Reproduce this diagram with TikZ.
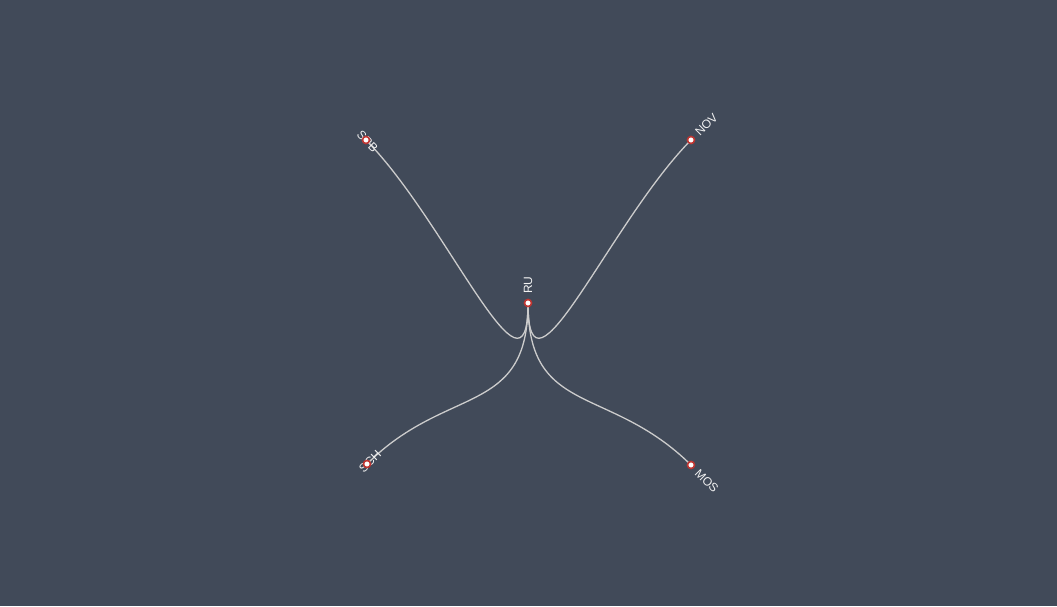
\documentclass[tikz,border=0pt]{standalone}
\usepackage{fontspec}
\setmainfont{Liberation Sans}
\usetikzlibrary{positioning}
\definecolor{bg}{HTML}{414A59}
\definecolor{dot}{HTML}{C23531}
\definecolor{linkc}{HTML}{CCCCCC}
\definecolor{txt}{HTML}{F2F2F2}

\begin{document}
\begin{tikzpicture}[x=1pt, y=-1pt,
    leaf/.style={circle, draw=dot, fill=white, line width=1.6pt, minimum size=7pt, inner sep=0pt},
    lbl/.style={text=txt, font=\fontsize{12}{14}\selectfont, inner sep=0pt},
    link/.style={draw=linkc, line width=1.3pt}]
  \fill[bg] (0,0) rectangle (1057,606);
  \useasboundingbox (0,0) rectangle (1057,606);
  \coordinate (ru) at (528,303);
  \coordinate (spb) at (366,140);
  \coordinate (nov) at (691,140);
  \coordinate (sch) at (367,464);
  \coordinate (mos) at (691,465);
  \draw[link] (ru) .. controls +(0,115) and +(81,82) .. (spb);
  \draw[link] (ru) .. controls +(0,115) and +(-81,82) .. (nov);
  \draw[link] (ru) .. controls +(0,114) and +(80,-80) .. (sch);
  \draw[link] (ru) .. controls +(0,114) and +(-82,-81) .. (mos);
  \node[lbl, rotate=90, anchor=west] (rulbl) at ([yshift=9pt]ru) {RU};
  \node[lbl, rotate=45, anchor=west] (novlbl) at ([shift={(6pt,6pt)}]nov) {NOV};
  \node[lbl, rotate=-45, anchor=west] (moslbl) at ([shift={(6pt,-6pt)}]mos) {MOS};
  \node[lbl, rotate=-45] (spblbl) at ([shift={(1.5pt,-1.5pt)}]spb) {SPB};
  \node[lbl, rotate=45] (schlbl) at ([shift={(3pt,2.5pt)}]sch) {SCH};
  \foreach \n in {ru, spb, nov, sch, mos}
    \node[leaf] (\n-dot) at (\n) {};
\end{tikzpicture}
\end{document}
